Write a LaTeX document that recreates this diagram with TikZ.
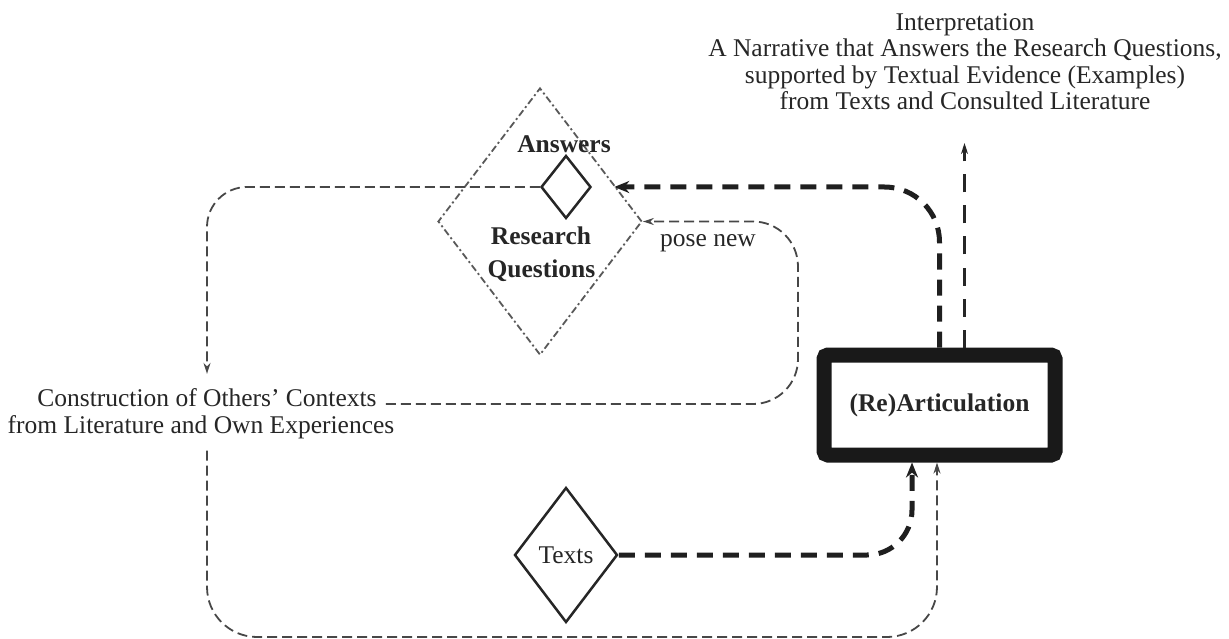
\documentclass[tikz,border=0pt]{standalone}
\usepackage{fontspec}
\setmainfont{Liberation Serif}
\usetikzlibrary{shapes.geometric,arrows.meta,calc}
\begin{document}
\begin{tikzpicture}[x=1pt,y=-1pt,
  every node/.style={font=\fontsize{25.5}{27}\selectfont, text=black!85, inner sep=0pt},
  bold/.style={font=\fontsize{25.5}{27}\selectfont\bfseries},
  thindash/.style={draw=black!72, line width=1.8pt, dash pattern=on 10pt off 5pt},
  middash/.style={draw=black!85, line width=3pt, dash pattern=on 18pt off 13pt},
  thickdash/.style={draw=black!88, line width=5pt, dash pattern=on 16pt off 10pt},
  thintip/.style={-{Stealth[length=11pt,width=7pt]}},
  thicktip/.style={-{Stealth[length=15pt,width=12pt]}},
  dmd/.style={diamond, draw=black!85, line width=2.5pt, inner sep=0pt},
  dashdot/.style={draw=black!65, line width=1.8pt, dash pattern=on 7pt off 3pt on 2pt off 3pt}
  ]
\useasboundingbox (0,0) rectangle (1229,639);
% nodes
\node[diamond, dashdot, minimum width=204pt, minimum height=267pt] (rq) at (540,221.5) {};
\node[dmd, minimum width=50pt, minimum height=63pt] (sd) at (566,187) {};
\node[bold, anchor=base] (ans) at (564,153) {Answers};
\node[bold, anchor=base] (rqa) at (541,244) {Research};
\node[bold, anchor=base] (rqb) at (541.5,277) {Questions};
\node[dmd, minimum width=103pt, minimum height=135pt] (tx) at (566,555) {Texts};
\node[draw=black!90, line width=15pt, rounded corners=4pt, minimum width=231pt, minimum height=100pt, bold] (art) at (939.5,405) {(Re)Articulation};
\node[anchor=base] (ctxA) at (207,406) {Construction of Others’ Contexts};
\node[anchor=base] (ctxB) at (201,433) {from Literature and Own Experiences};
\node[anchor=base] (pose) at (708,247) {pose new};
\node[align=center, anchor=south, font=\fontsize{25.5}{26.5}\selectfont] (interp) at (965,110)
  {Interpretation\\A Narrative that Answers the Research Questions,\\supported by Textual Evidence (Examples)\\from Texts and Consulted Literature};
% coordinates
\coordinate (cr) at (798,221.5);
\coordinate (bl) at (207,637);
\coordinate (br) at (937,637);
\coordinate (itip) at (964.5,143);
\coordinate (ps) at ($(ctxA.base east)+(9,-2)$);
\coordinate (lb) at ($(ctxA.south |- ctxB.south)+(0,12)$);
% connectors
\draw[thindash, thintip, rounded corners=40pt] (sd.west) -| ([yshift=14pt]ctxA.north);
\draw[thindash, thintip, rounded corners=45pt] (ps) -| (cr) -- (rq.east);
\draw[thindash, thintip, rounded corners=50pt] (lb) -- (bl) -- (br) -- ([xshift=-2.5pt]art.south);
\draw[thickdash, thicktip, rounded corners=45pt] (tx.east) -| ([xshift=-27.5pt]art.south);
\draw[thickdash, thicktip, rounded corners=55pt] (art.north) |- ([xshift=22pt]sd.east);
\draw[middash, thintip] ([xshift=25pt]art.north) -- ([xshift=25pt]art.north |- itip);
\end{tikzpicture}
\end{document}
